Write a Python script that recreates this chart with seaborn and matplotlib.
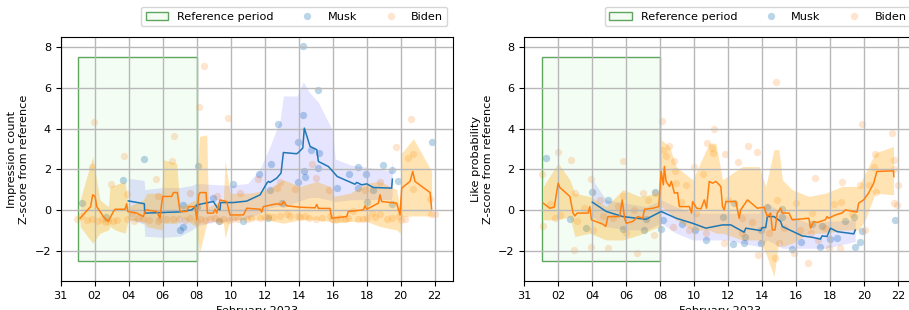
import numpy as np
import pandas as pd
import seaborn as sns
import matplotlib.pyplot as plt
import matplotlib.dates as mdates
from matplotlib.patches import Rectangle, Patch
from matplotlib.lines import Line2D

# all x values are days since 2023-01-31 00:00
BASE = pd.Timestamp("2023-01-31")

ref_start, ref_end = 1.04, 8.0
ref_low, ref_high = -2.5, 7.5

# ---------------- impression count (left) ----------------
imp_musk_pts_x = [1.24, 2.67, 3.69, 4.92, 7.02, 7.18, 7.22, 8.0, 8.08, 8.98, 9.33, 10.12, 10.75, 11.69,
                  12.22, 12.31, 12.35, 12.80, 13.0, 13.94, 13.94, 14.24, 14.27, 14.31, 14.37, 14.71,
                  15.16, 15.16, 15.22, 16.27, 16.98, 17.47, 17.51, 17.94, 18.0, 18.39, 18.94, 19.47,
                  19.47, 19.82, 21.86]
imp_musk_pts_y = [0.36, -0.36, 1.48, 2.50, -0.99, -0.82, 0.26, 0.16, 2.17, 0.59, -0.57, 1.25, -0.57, 1.77,
                  -0.39, 0.99, 2.27, 4.24, 0.33, 3.35, 1.35, 8.05, 4.66, 1.89, 1.64, 2.96,
                  5.91, 2.05, 2.82, 1.07, 1.74, 2.09, 1.07, 1.74, 0.41, 0.99, 2.22, 1.94,
                  0.30, 1.41, 3.35]

imp_biden_pts_x = [0.98, 1.2, 1.53, 1.82, 1.86, 1.98, 2.12, 2.41, 2.6, 2.8, 2.94, 3.09, 3.3, 3.74, 3.88,
                   3.88, 4.18, 4.3, 4.56, 4.86, 5.2, 5.61, 5.70, 5.74, 5.84, 6.2, 6.53, 6.6, 6.66, 6.96,
                   7.3, 7.6, 7.6, 8.0, 8.15, 8.19, 8.43, 8.5, 8.78, 9.08, 9.18, 9.3, 9.56, 9.82, 9.9,
                   10.15, 10.4, 10.55, 10.94, 11.2, 11.62, 11.72, 12.0, 12.21, 12.5, 12.7, 12.9, 12.9,
                   13.29, 13.5, 13.78, 13.95, 14.1, 14.37, 14.6, 14.76, 15.0, 15.0, 15.4, 15.8, 15.84,
                   15.94, 16.2, 16.43, 16.7, 16.92, 17.21, 17.5, 17.8, 17.9, 18.0, 18.29, 18.5, 18.78,
                   18.78, 19.18, 19.5, 19.72, 19.92, 20.0, 20.25, 20.45, 20.6, 20.7, 20.74, 21.73,
                   21.76, 22.02]
imp_biden_pts_y = [-0.46, -0.3, -0.49, -0.46, 2.13, 4.30, -0.54, -0.44, -0.6, -0.54, 1.25, -0.54, -0.5, 2.63, 0.77,
                   -0.46, -0.13, -0.55, -0.38, -0.46, -0.5, 1.51, -0.54, 0.69, -0.46, -0.45, 2.4, -0.46, 3.63, -0.46,
                   -0.5, 0.85, -0.38, -0.55, 5.07, -0.46, 7.09, -0.5, -0.46, -0.38, 0.69, -0.55, -0.46, 4.52, -0.5,
                   -0.46, -0.45, 0.82, -0.46, -0.4, 1.51, -0.38, -0.35, -0.3, -0.35, 1.08, -0.3, 1.35,
                   -0.21, -0.3, 1.02, -0.3, -0.35, -0.3, -0.4, 2.25, 1.59, -0.46, -0.4, 0.97, -0.3,
                   -0.46, -0.45, -0.38, -0.45, -0.38, -0.05, -0.45, -0.46, 0.98, -0.4, -0.13, -0.35, -0.21,
                   1.35, -0.46, -0.4, 3.07, -0.3, -0.5, -0.43, 2.55, 4.47, 1.02, 2.74, 0.53,
                   -0.21, -0.21]

imp_musk_line_x = [3.98, 4.92, 4.94, 7.02, 7.71, 8.04, 8.98, 9.27, 9.37, 9.41, 10.16, 10.94, 11.73, 12.12,
                   12.22, 12.31, 12.71, 12.96, 13.10, 13.88, 13.98, 14.24, 14.33, 14.67, 15.06, 15.16,
                   15.75, 16.27, 17.31, 17.41, 17.71, 18.0, 18.39, 19.47, 19.51]
imp_musk_line_y = [0.44, 0.30, -0.16, -0.10, 0.0, 0.25, 0.41, 0.03, 0.0, 0.36, 0.36, 0.43, 0.74, 1.31,
                   1.40, 1.35, 1.56, 1.81, 2.82, 2.76, 2.82, 3.04, 4.02, 3.12, 2.96, 2.38,
                   2.13, 1.64, 1.26, 1.35, 1.23, 1.28, 1.10, 1.07, 1.51]

imp_musk_band_x = [3.98, 4.9, 4.95, 6.0, 7.0, 7.7, 8.0, 9.0, 10.0, 11.0, 11.7, 12.3, 12.9, 13.1, 13.9,
                   14.27, 14.66, 15.15, 16.0, 16.15, 17.1, 18.0, 18.7, 19.45, 19.5]
imp_musk_band_lo = [-0.45, -0.7, -1.3, -1.35, -1.3, -1.0, -0.8, -0.6, -0.55, -0.4, -0.2, 0.1, 0.2, 0.1, 0.4,
                    0.5, 0.6, 0.6, 0.45, 0.4, 0.5, 0.5, 0.5, 0.5, 0.7]
imp_musk_band_hi = [1.55, 1.45, 1.0, 1.1, 1.1, 1.2, 1.3, 1.25, 1.2, 1.3, 1.97, 3.1, 4.4, 5.6, 5.6,
                    6.3, 5.75, 5.3, 3.9, 2.5, 2.2, 2.1, 2.0, 1.9, 2.6]

imp_biden_line_x = [1.14, 1.76, 1.88, 2.02, 2.12, 2.51, 2.80, 3.10, 3.20, 3.78, 3.88, 3.94, 4.47, 4.86,
                    5.0, 5.65, 5.84, 5.94, 6.0, 6.53, 6.63, 6.86, 7.02, 7.41, 7.51, 7.90, 8.0, 8.12,
                    8.20, 8.55, 8.63, 8.98, 9.08, 9.18, 9.37, 9.76, 9.96, 10.75, 10.94, 11.73, 11.82,
                    11.92, 12.71, 13.0, 13.10, 13.29, 14.08, 14.96, 15.06, 15.16, 15.84, 15.94, 16.82,
                    16.92, 17.80, 17.90, 18.0, 18.69, 18.78, 18.88, 19.76, 19.96, 20.06, 20.55, 20.71,
                    20.84, 21.73, 21.82]
imp_biden_line_y = [-0.41, 0.16, 0.74, 0.66, 0.16, -0.33, -0.57, -0.08, 0.03, 0.03, 0.30, -0.08, -0.16, -0.33,
                    0.0, -0.08, -0.41, 0.33, 0.66, 0.66, 0.85, 0.85, -0.08, -0.08, 0.16, 0.16, -0.49, 0.74,
                    0.85, 0.85, -0.16, -0.16, 0.03, -0.16, 0.49, 0.41, -0.25, -0.25, 0.08, 0.03, -0.11,
                    0.16, 0.30, 0.25, 0.41, 0.20, 0.13, 0.10, 0.26, 0.07, 0.07, -0.41, -0.33,
                    -0.08, 0.0, 0.20, 0.03, 0.33, 0.74, 0.41, 0.33, -0.25, 1.07, 1.40, 1.89,
                    1.40, 0.85, 0.05]

imp_biden_band_x = [1.14, 1.88, 2.31, 2.8, 2.9, 3.2, 3.78, 3.98, 4.86, 5.06, 5.94, 6.04, 6.82, 7.02, 7.96,
                    8.16, 8.59, 8.69, 9.57, 9.67, 9.96, 11.14, 12.12, 13.1, 14.08, 15.06, 15.84, 16.04,
                    17.02, 18.0, 18.78, 19.76, 19.96, 20.06, 20.75, 21.82]
imp_biden_band_lo = [-0.82, -1.64, -1.15, -0.99, -0.82, -0.99, -1.15, -0.49, -0.57, -0.82, -0.99, -0.66, -0.66, -0.33, -0.82,
                     -2.13, -0.66, -0.49, -0.66, -1.40, -0.49, -0.49, -0.49, -0.66, -0.49, -0.49, -0.57, -0.66,
                     -0.57, -0.57, -0.82, -0.99, -1.15, -0.33, -0.3, -0.3]
imp_biden_band_hi = [0.49, 2.63, 0.49, 0.16, 1.15, 1.23, 1.40, 0.16, 0.49, 0.82, 0.82, 2.46, 2.30, 0.16, 0.49,
                     3.61, 3.69, 0.16, 0.49, 2.46, 0.82, 0.82, 0.99, 1.48, 1.15, 1.40, 1.15, 0.66,
                     0.82, 1.31, 1.40, 0.99, 0.08, 2.79, 3.5, 1.9]

# ---------------- like probability (right) ----------------
like_musk_pts_x = [1.27, 2.71, 3.65, 4.0, 4.92, 5.8, 7.07, 7.17, 7.71, 8.05, 8.14, 9.28, 10.06, 10.68,
                   11.66, 12.29, 12.34, 12.93, 13.0, 13.9, 13.9, 14.3, 15.14, 15.18, 15.76, 16.25, 16.93,
                   17.42, 17.5, 17.97, 18.4, 18.89, 19.43, 19.77, 19.38, 19.86, 21.82]
like_musk_pts_y = [2.55, -0.46, -0.9, 0.87, 0.49, -0.95, -0.99, -0.46, 0.87, -0.94, -0.49, -0.69, -0.99, -1.48,
                   -0.36, -1.67, 0.36, -1.64, -1.35, -1.64, -0.99, 0.13, 0.03, -0.36, -1.94, -1.56, -0.69,
                   -1.81, -0.79, -1.44, -1.36, -0.57, -1.81, -1.56, -0.33, -1.03, -0.49]

like_biden_pts_x = [1.02, 1.11, 1.5, 1.8, 1.99, 2.09, 2.77, 2.93, 2.97, 3.1, 3.5, 3.95, 3.95, 4.04, 4.43,
                    4.6, 4.92, 5.21, 5.5, 5.8, 5.8, 6.0, 6.48, 6.64, 6.97, 7.3, 7.62, 7.66, 8.1, 8.14,
                    8.34, 8.5, 8.73, 8.83, 8.89, 8.93, 9.2, 9.51, 9.71, 10.0, 10.1, 10.53, 10.68, 10.74,
                    11.07, 11.11, 11.17, 11.76, 11.82, 12.0, 12.6, 12.83, 12.83, 13.18, 13.4, 13.71, 13.77,
                    14.39, 14.75, 14.79, 14.88, 14.98, 15.3, 15.86, 15.96, 16.2, 16.7, 16.84, 16.93, 17.09,
                    17.3, 17.68, 17.91, 18.2, 18.59, 18.65, 18.69, 19.3, 19.73, 19.86, 20.06, 20.3, 20.55,
                    20.64, 20.68, 21.62, 21.72, 21.72, 21.72, 21.91, 22.0]
like_biden_pts_y = [1.76, -0.79, 0.3, -0.41, 2.87, -0.25, 2.46, -1.97, 0.82, -0.57, 0.1, 1.51, -1.81, -0.99, 0.49,
                    -0.3, -1.89, -0.41, 0.2, 2.38, 0.66, -1.15, 0.0, -2.1, 0.82, 0.5, -1.23, 0.85, 4.38, 2.96,
                    2.63, 3.12, -0.82, 2.38, 1.89, 1.31, 0.4, 1.23, -0.99, 2.1, -0.16, 1.77, -1.15, 3.28,
                    3.04, 2.79, 3.97, -1.64, 2.76, 0.5, 2.33, -0.41, -1.15, 3.12, -0.6, 2.87, -2.22,
                    -1.15, -2.38, 6.27, 0.49, -1.64, -0.9, -2.13, 0.33, -1.0, -2.63, -1.15, -0.16, 1.59,
                    -1.5, -0.9, -1.89, 0.3, -1.89, 0.41, 1.35, -0.2, 1.23, 4.24, -0.99, 1.2, 2.13,
                    2.76, 0.9, 3.78, 2.46, 2.0, 0.33, 0.25, 1.23]

like_musk_line_x = [4.0, 4.82, 5.80, 6.58, 7.17, 8.05, 8.93, 9.90, 10.68, 11.66, 12.15, 12.93, 13.03, 13.91,
                    14.0, 14.20, 14.30, 14.69, 15.08, 15.18, 16.35, 16.93, 17.42, 17.52, 17.81, 18.01,
                    18.40, 19.38, 19.47]
like_musk_line_y = [0.38, -0.08, -0.33, -0.41, -0.46, -0.08, -0.41, -0.66, -0.90, -0.74, -0.74, -1.10, -0.90, -1.02,
                    -0.87, -0.87, -0.33, -0.33, -0.57, -0.82, -1.28, -1.35, -1.44, -1.28, -1.31, -0.90,
                    -1.07, -1.18, -0.99]

like_musk_band_x = [4.0, 4.82, 6.0, 7.17, 8.05, 8.93, 9.9, 11.86, 13.81, 14.3, 15.18, 16.74, 17.71, 19.47]
like_musk_band_lo = [-0.33, -0.82, -0.99, -0.99, -0.66, -1.15, -1.48, -1.48, -1.81, -1.48, -1.89, -1.89, -1.89, -1.56]
like_musk_band_hi = [1.48, 0.49, 0.33, 0.16, 0.49, 0.16, -0.16, -0.16, -0.16, 0.33, -0.16, -0.66, -0.58, -0.49]

like_biden_line_x = [1.11, 1.50, 1.76, 1.99, 2.09, 2.68, 2.87, 2.97, 3.11, 3.75, 3.85, 3.95, 4.63, 4.79,
                     4.92, 5.61, 5.76, 5.90, 6.0, 6.39, 6.68, 6.97, 7.07, 7.56, 7.91, 8.05, 8.18, 8.24,
                     8.34, 8.54, 8.65, 8.83, 9.02, 9.12, 9.71, 9.84, 9.90, 10.14, 10.39, 10.59, 10.72,
                     10.88, 11.07, 11.27, 11.56, 11.66, 11.76, 11.86, 12.44, 12.64, 12.73, 13.13, 13.71,
                     14.10, 14.30, 14.49, 14.59, 14.75, 14.88, 15.08, 15.18, 15.57, 15.76, 16.74, 16.84,
                     17.03, 17.23, 17.71, 17.81, 17.91, 18.30, 18.69, 18.89, 19.57, 19.67, 19.96, 20.25,
                     20.55, 20.74, 21.72, 21.74]
like_biden_line_y = [0.33, 0.08, 0.13, 1.31, 1.10, 0.66, -0.16, -0.30, -0.16, -0.16, 0.16, -0.49, -0.71, -0.82,
                     -0.33, -0.33, 0.49, -0.41, -0.66, -0.57, -0.33, -0.41, 0.03, 0.08, 0.16, 1.89, 1.23, 2.13,
                     1.40, 1.15, 1.40, 0.82, 0.85, 0.16, 0.16, -0.16, 0.41, 0.08, 0.05, 0.49, 0.08,
                     1.40, 1.31, 1.40, 1.15, 0.16, 0.0, 0.41, 0.41, -0.41, 0.0, 0.49, 0.08,
                     0.13, -0.33, -0.16, -0.99, -0.99, -0.16, 0.08, -0.16, -0.16, -0.49, -0.41, -0.90,
                     -0.57, -0.62, -0.49, -0.33, -0.41, -0.25, -0.16, 0.0, -0.11, 0.33, 0.49, 0.82,
                     1.31, 1.89, 1.92, 1.64]

like_biden_band_x = [1.11, 1.99, 2.68, 2.97, 3.85, 4.82, 5.80, 6.78, 7.95, 8.05, 8.54, 8.93, 9.90, 10.88,
                     11.27, 11.66, 12.83, 13.81, 14.20, 14.69, 14.98, 15.18, 15.76, 16.74, 17.71, 18.69,
                     19.67, 20.06, 20.64, 21.72]
like_biden_band_lo = [-0.49, -0.49, -0.33, -1.31, -1.15, -1.48, -1.48, -1.23, -0.82, 0.16, -0.16, -0.49, -0.99, -0.99,
                      -1.15, -1.15, -1.48, -1.48, -2.13, -3.28, -1.48, -1.81, -1.64, -1.15, -1.15, -0.99,
                      -0.99, -0.49, 0.82, 0.74]
like_biden_band_hi = [1.15, 2.30, 1.48, 0.82, 0.66, 0.16, 1.0, 0.66, 0.82, 3.45, 3.12, 2.13, 1.48, 3.28,
                      3.28, 1.48, 2.13, 2.13, 1.15, 2.96, 2.96, 1.48, 0.99, 0.66, 0.82, 1.15,
                      1.15, 1.81, 2.8, 3.12]


def to_dates(days):
    return BASE + pd.to_timedelta(np.asarray(days), unit="D")


plt.rcParams["font.size"] = 8.1

fig = plt.figure(figsize=(9.09, 3.1), dpi=100)
ax1 = fig.add_axes([0.0668, 0.0935, 0.4316, 0.787])
ax2 = fig.add_axes([0.5768, 0.0935, 0.4316, 0.787])


def panel(ax, m_px, m_py, b_px, b_py, m_lx, m_ly, m_bx, m_lo, m_hi,
          b_lx, b_ly, b_bx, b_lo, b_hi, ylabel):
    x0 = mdates.date2num(to_dates([ref_start])[0])
    x1 = mdates.date2num(to_dates([ref_end])[0])
    ax.add_patch(Rectangle((x0, ref_low), x1 - x0, ref_high - ref_low,
                           facecolor="#f3fdf3", edgecolor="#5ea55e", lw=1.0, zorder=0.5))

    sns.scatterplot(x=to_dates(m_px), y=m_py, ax=ax, color="tab:blue", alpha=0.3,
                    s=28, linewidth=0, zorder=1)
    sns.scatterplot(x=to_dates(b_px), y=b_py, ax=ax, color="tab:orange", alpha=0.2,
                    s=28, linewidth=0, zorder=1)

    ax.fill_between(to_dates(m_bx), m_lo, m_hi, color="blue", alpha=0.1, lw=0, zorder=1)
    ax.fill_between(to_dates(b_bx), b_lo, b_hi, color="orange", alpha=0.3, lw=0, zorder=1)

    sns.lineplot(x=to_dates(m_lx), y=m_ly, ax=ax, color="tab:blue", lw=1.1,
                 estimator=None, sort=False, zorder=3)
    sns.lineplot(x=to_dates(b_lx), y=b_ly, ax=ax, color="tab:orange", lw=1.1,
                 estimator=None, sort=False, zorder=3)

    ax.set_xlim(to_dates([0.0])[0], to_dates([23.08])[0])
    ax.set_ylim(-3.5, 8.5)
    ax.set_yticks([-2, 0, 2, 4, 6, 8])
    ax.set_xticks(pd.date_range("2023-01-31", "2023-02-22", freq="2D"))
    ax.xaxis.set_major_formatter(mdates.DateFormatter("%d"))
    ax.grid(True, color="#b8b8b8", lw=1.0)
    ax.set_xlabel("February 2023")
    ax.set_ylabel(ylabel)

    handles = [Patch(facecolor="#f3fdf3", edgecolor="#5ea55e", label="Reference period"),
               Line2D([], [], marker="o", ls="none", color="tab:blue", alpha=0.3,
                      markeredgewidth=0, markersize=5.3, label="Musk"),
               Line2D([], [], marker="o", ls="none", color="tab:orange", alpha=0.2,
                      markeredgewidth=0, markersize=5.3, label="Biden")]
    ax.legend(handles=handles, ncol=3, loc="lower right", bbox_to_anchor=(1.0, 1.022))


panel(ax1, imp_musk_pts_x, imp_musk_pts_y, imp_biden_pts_x, imp_biden_pts_y,
      imp_musk_line_x, imp_musk_line_y, imp_musk_band_x, imp_musk_band_lo, imp_musk_band_hi,
      imp_biden_line_x, imp_biden_line_y, imp_biden_band_x, imp_biden_band_lo, imp_biden_band_hi,
      "Impression count\nZ-score from reference")
panel(ax2, like_musk_pts_x, like_musk_pts_y, like_biden_pts_x, like_biden_pts_y,
      like_musk_line_x, like_musk_line_y, like_musk_band_x, like_musk_band_lo, like_musk_band_hi,
      like_biden_line_x, like_biden_line_y, like_biden_band_x, like_biden_band_lo, like_biden_band_hi,
      "Like probability\nZ-score from reference")

fig.savefig("out.png", dpi=100)
